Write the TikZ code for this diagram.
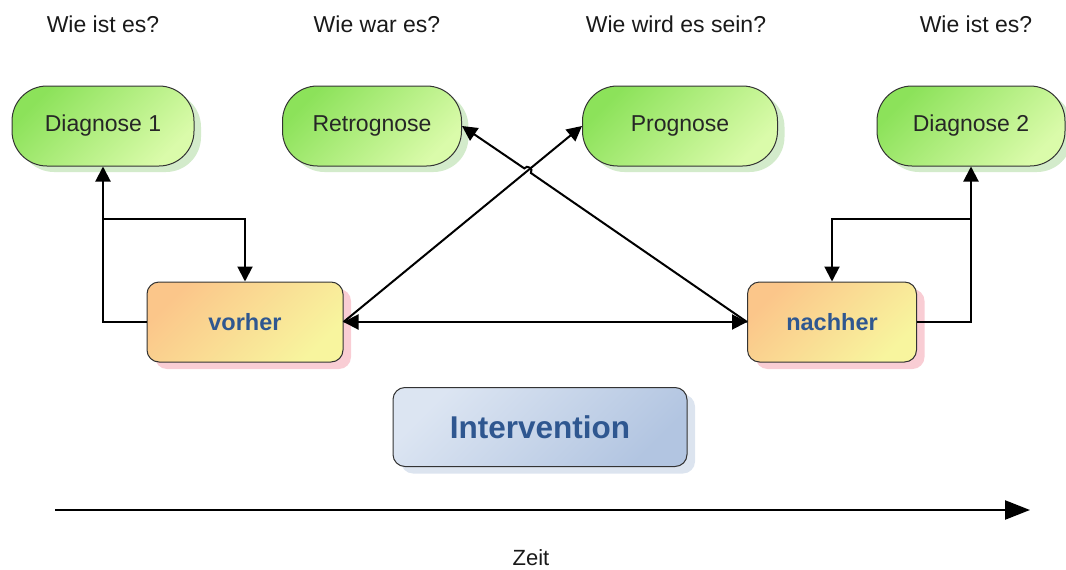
\documentclass[tikz,border=0pt]{standalone}
\usepackage{fontspec}
\setmainfont{Liberation Sans}
\usetikzlibrary{arrows.meta,shadows}
\definecolor{gdark}{HTML}{8CE25A}
\definecolor{glight}{HTML}{DAFBAA}
\definecolor{gshadow}{HTML}{D3EBCB}
\definecolor{odark}{HTML}{FBC68A}
\definecolor{olight}{HTML}{F8F59E}
\definecolor{pshadow}{HTML}{F9CDD4}
\definecolor{bdark}{HTML}{DCE5F2}
\definecolor{blight}{HTML}{B2C5E1}
\definecolor{bshadow}{HTML}{DCE4EF}
\definecolor{txtblue}{HTML}{2F5790}
\definecolor{edge}{HTML}{333333}
\begin{document}
\begin{tikzpicture}[x=1pt,y=-1pt,
  greenbox/.style={draw=edge, line width=1pt, rounded corners=35pt,
    minimum height=80pt, inner sep=0pt,
    top color=gdark, bottom color=glight, shading angle=45,
    drop shadow={fill=gshadow, opacity=1, shadow xshift=7pt, shadow yshift=-6pt},
    font=\fontsize{23}{27}\selectfont, text=black!85},
  yellowbox/.style={draw=edge, line width=1pt, rounded corners=12pt,
    minimum height=80pt, inner sep=0pt,
    top color=odark, bottom color=olight, shading angle=45,
    drop shadow={fill=pshadow, opacity=1, shadow xshift=8pt, shadow yshift=-7pt},
    font=\fontsize{23.5}{27}\selectfont\bfseries, text=txtblue},
  bluebox/.style={draw=edge, line width=1pt, rounded corners=12pt,
    minimum height=79pt, inner sep=0pt,
    top color=bdark, bottom color=blight, shading angle=45,
    drop shadow={fill=bshadow, opacity=1, shadow xshift=8pt, shadow yshift=-7pt},
    font=\fontsize{31.5}{36}\selectfont\bfseries, text=txtblue},
  heading/.style={font=\fontsize{23}{27}\selectfont, text=black!90},
  conn/.style={line width=2pt, -{Triangle[length=15pt,width=15pt]}},
  conntwo/.style={line width=2pt, {Triangle[length=15pt,width=15pt]}-{Triangle[length=15pt,width=15pt]}},
  timearrow/.style={line width=2.4pt, -{Triangle[length=25pt,width=19pt]}}
]
\useasboundingbox (0,0) rectangle (1066,570);

% headings
\node[heading] (h1) at (103,24) {Wie ist es?};
\node[heading] (h2) at (377,24) {Wie war es?};
\node[heading] (h3) at (676,24) {Wie wird es sein?};
\node[heading] (h4) at (976,24) {Wie ist es?};

% top boxes
\node[greenbox, minimum width=182pt] (d1) at (103,126) {Diagnose 1};
\node[greenbox, minimum width=179pt] (retro) at (372,126) {Retrognose};
\node[greenbox, minimum width=195pt] (prog) at (680,126) {Prognose};
\node[greenbox, minimum width=188pt] (d2) at (971,126) {Diagnose 2};

% middle boxes
\node[yellowbox, minimum width=196pt] (vorher) at (245,322) {vorher};
\node[yellowbox, minimum width=169pt] (nachher) at (832,322) {nachher};

% intervention
\node[bluebox, minimum width=294pt] (interv) at (540,427) {Intervention};

% left loop
\coordinate (b1) at (103,219);
\draw[conn] (vorher.west) -| (d1.south);
\draw[conn] (b1) -| (vorher.north);

% right loop
\coordinate (b2) at (971,219);
\draw[conn] (nachher.east) -| (d2.south);
\draw[conn] (b2) -| (nachher.north);

% cross connections
\draw[conntwo] (vorher.east) -- (nachher.west);
\draw[conn] (vorher.east) -- (prog.west);
% line hop where the two diagonals cross
\coordinate (hopA) at (530.9,173.0);
\coordinate (hopA1) at (533.7,168.9);
\coordinate (hopB1) at (527.1,164.3);
\coordinate (hopB) at (524.3,168.4);
\draw[conn] (nachher.west) -- (hopA) .. controls (hopA1) and (hopB1) .. (hopB) -- (retro.east);

% time axis
\coordinate (t0) at (55,510);
\coordinate (t1) at (1030,510);
\draw[timearrow] (t0) -- (t1);
\node[heading, font=\fontsize{22}{26}\selectfont, anchor=base, inner sep=0pt] (zeit) at (531,565) {Zeit};
\end{tikzpicture}
\end{document}
